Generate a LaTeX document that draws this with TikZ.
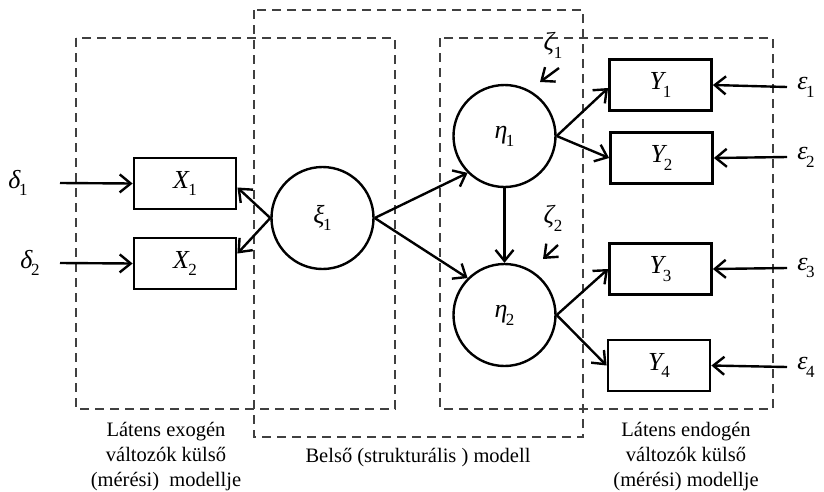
\documentclass[tikz,border=0pt]{standalone}
\usepackage{fontspec}
\setmainfont{Liberation Serif}
\usetikzlibrary{arrows.meta}
\newcommand\vsub[3][-1.5pt]{\textit{#2}\kern#1\raisebox{-0.3em}{\fontsize{17}{17}\selectfont #3}}
\definecolor{dashgray}{HTML}{404040}
\begin{document}
\begin{tikzpicture}[x=1pt,y=-1pt,
  region/.style={draw=dashgray,line width=2.4pt,dash pattern=on 9pt off 6pt},
  obs/.style={draw,line width=2.8pt,minimum width=102pt,minimum height=51pt,inner sep=0pt,font=\fontsize{26}{26}\selectfont},
  lat/.style={draw,circle,line width=2.4pt,minimum size=102pt,inner sep=0pt,font=\fontsize{26}{26}\selectfont},
  err/.style={inner sep=0pt,font=\fontsize{26}{26}\selectfont},
  conn/.style={line width=2.4pt,-{Straight Barb[length=11pt,width=18pt,line width=2.4pt]}},
  lbl/.style={align=center,font=\fontsize{20.5}{25}\selectfont,inner sep=0pt}]
\useasboundingbox (0,0) rectangle (824,491);
% dashed regions
\draw[region] (76,38) rectangle (395,409);
\draw[region] (254,10) rectangle (583,437);
\draw[region] (440,38) rectangle (773,409);
% observed
\node[obs] (X1) at (185,183.5) {\vsub{X}{1}};
\node[obs] (X2) at (185,263.5) {\vsub{X}{2}};
\node[obs] (Y1) at (660.5,85) {\vsub[-3.5pt]{Y}{1}};
\node[obs] (Y2) at (661.5,158) {\vsub[-3.5pt]{Y}{2}};
\node[obs] (Y3) at (660.5,269) {\vsub[-3.5pt]{Y}{3}};
\node[obs] (Y4) at (659,365.5) {\vsub[-3.5pt]{Y}{4}};
% latent
\node[lat] (xi) at (322.5,218) {\vsub{ξ}{1}};
\node[lat] (eta1) at (504.5,136) {\vsub{η}{1}};
\node[lat] (eta2) at (504.5,315) {\vsub{η}{2}};
% error labels
\node[err] (d1) at (18,183) {\vsub{δ}{1}};
\node[err] (d2) at (30,263) {\vsub{δ}{2}};
\node[err] (e1) at (806,87) {\vsub{ε}{1}};
\node[err] (e2) at (806,157) {\vsub{ε}{2}};
\node[err] (e3) at (806,268) {\vsub{ε}{3}};
\node[err] (e4) at (806,367) {\vsub{ε}{4}};
\node[err] (z1) at (553,45) {\vsub{ζ}{1}};
\node[err] (z2) at (553,218) {\vsub{ζ}{2}};
\coordinate (d1s) at (60,183);
\coordinate (d2s) at (60,263);
\coordinate (e1s) at (787,87);
\coordinate (e2s) at (787,157);
\coordinate (e3s) at (787,268);
\coordinate (e4s) at (787,367);
\coordinate (z1s) at (559,68);
\coordinate (z1e) at (540,82);
\coordinate (z2s) at (558,245);
\coordinate (z2e) at (543,259);
% connectors
\draw[conn] (d1s) -- (X1.west);
\draw[conn] (d2s) -- (X2.west);
\draw[conn] (e1s) -- (Y1.east);
\draw[conn] (e2s) -- (Y2.east);
\draw[conn] (e3s) -- (Y3.east);
\draw[conn] (e4s) -- (Y4.east);
\draw[conn] (z1s) -- (z1e);
\draw[conn] (z2s) -- (z2e);
\draw[conn] (xi.west) -- ([yshift=-4pt]X1.east);
\draw[conn] (xi.west) -- ([yshift=10pt]X2.east);
\draw[conn] (xi.east) -- (eta1.225);
\draw[conn] (xi.east) -- (eta2.135);
\draw[conn] (eta1.south) -- (eta2.north);
\draw[conn] (eta1.east) -- ([yshift=-3pt]Y1.west);
\draw[conn] (eta1.east) -- (Y2.west);
\draw[conn] (eta2.east) -- (Y3.west);
\draw[conn] (eta2.east) -- (Y4.west);
% captions
\node[lbl] (c1) at (166,457) {Látens exogén\\változók külső\\(mérési)\ \ modellje};
\node[lbl] (c2) at (418,458) {Belső (strukturális ) modell};
\node[lbl] (c3) at (686,457) {Látens endogén\\változók külső\\(mérési) modellje};
\end{tikzpicture}
\end{document}
